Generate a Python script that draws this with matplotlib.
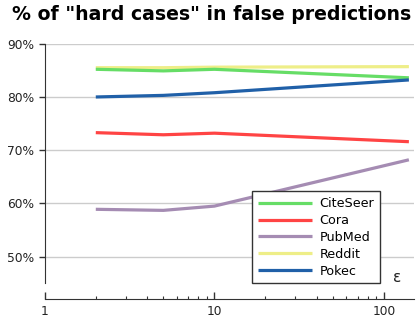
import matplotlib
matplotlib.use("Agg")
import matplotlib.pyplot as plt
from matplotlib.ticker import FuncFormatter, LogLocator, FixedLocator

eps = [2, 5, 10, 140]
series_names = ["CiteSeer", "Cora", "PubMed", "Reddit", "Pokec"]
citeseer = [85.2, 84.9, 85.2, 83.6]
cora = [73.3, 72.9, 73.2, 71.6]
pubmed = [58.9, 58.7, 59.5, 68.2]
reddit = [85.5, 85.5, 85.6, 85.7]
pokec = [80.0, 80.3, 80.8, 83.2]
values = [citeseer, cora, pubmed, reddit, pokec]
colors = ["#66dd66", "#ff4444", "#a58cb3", "#eeee88", "#2060a8"]
yticks = [50, 60, 70, 80, 90]
xticks = [1, 10, 100]

fig = plt.figure(figsize=(4.19, 3.24), dpi=100)
ax = fig.add_axes([0.1067, 0.1256, 0.988 - 0.1067, 0.865 - 0.1256])

zorders = [3, 3, 3, 2, 4]
for name, vals, c, z in zip(series_names, values, colors, zorders):
    ax.plot(eps, vals, color=c, lw=2.3, label=name, zorder=z, solid_capstyle='butt')

ax.set_xscale("log")
ax.set_xlim(1, 150)
ax.set_ylim(45, 90)
ax.set_yticks(yticks)
ax.yaxis.set_major_formatter(FuncFormatter(lambda v, p: f"{int(v)}%"))
ax.xaxis.set_major_locator(FixedLocator(xticks))
ax.xaxis.set_major_formatter(FuncFormatter(lambda v, p: f"{int(v)}"))
ax.xaxis.set_minor_locator(LogLocator(base=10, subs=range(2, 10)))
ax.xaxis.set_minor_formatter(FuncFormatter(lambda v, p: ""))

ax.grid(axis="y", color="#cccccc", lw=1, zorder=0)
ax.set_axisbelow(True)

for s in ["top", "right"]:
    ax.spines[s].set_visible(False)
ax.spines["bottom"].set_position(("outward", 11.3))
ax.spines["left"].set_color("#333333")
ax.spines["bottom"].set_color("#333333")

ax.tick_params(axis="y", direction="out", length=4.5, width=1, color="#333333",
               labelsize=8.8, pad=3, labelcolor="#222222")
ax.tick_params(axis="x", which="major", direction="in", length=5, width=1,
               color="#333333", labelsize=8.8, pad=4, labelcolor="#222222")
ax.tick_params(axis="x", which="minor", direction="in", length=2.5, width=0.8,
               color="#333333")

ax.text(0.955, -0.005, "ε", transform=ax.transAxes, fontsize=11,
        ha="center", va="bottom", color="#222222")

leg = ax.legend(loc="lower right", bbox_to_anchor=(0.908, 0.0), borderaxespad=0,
                fontsize=9.2, handlelength=4.2, fancybox=False, framealpha=1,
                edgecolor="#333333", borderpad=0.45, labelspacing=0.3,
                handletextpad=0.6)
leg.get_frame().set_linewidth(1)

fig.suptitle('% of "hard cases" in false predictions', fontsize=13.6,
             fontweight="bold", x=0.505, y=0.985, va="top")

fig.savefig("out.png", dpi=100, facecolor="white")
